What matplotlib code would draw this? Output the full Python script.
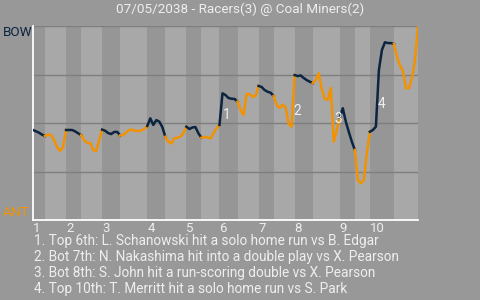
import numpy as np
import matplotlib
matplotlib.use("Agg")
import matplotlib.pyplot as plt

plt.rcParams["font.family"] = ["Roboto", "DejaVu Sans"]

BG = "#989898"
BAND_TOP = "#969696"
BAND_BOT = "#a8a8a8"
GRID = "#7f7f7f"
NAVY = "#0b2440"
ORANGE = "#f39200"
LIGHT = "#eeeeee"

title = "07/05/2038 - Racers(3) @ Coal Miners(2)"
away_abbr, home_abbr = "BOW", "ANT"

# win probability (%) for the away side after each play
wp = [46.4, 45.7, 45.0, 44.0, 43.3, 44.1, 43.8, 41.2, 37.6, 35.6,
      37.6, 46.4, 46.4, 46.4, 45.7, 44.7, 43.7, 41.2, 39.7, 39.7,
      36.1, 35.6, 41.2, 46.6, 46.0, 44.8, 44.3, 45.4, 45.4, 43.6,
      43.8, 45.2, 46.4, 46.5, 45.9, 45.9, 46.1, 47.0, 48.5, 52.4,
      49.0, 51.5, 50.7, 47.9, 42.9, 40.4, 39.4, 42.1, 42.4, 43.0,
      44.7, 48.1, 46.9, 47.7, 47.9, 44.7, 42.4, 42.8, 42.6, 42.1,
      44.7, 47.3, 49.0, 65.3, 64.4, 62.9, 62.5, 62.4, 61.0, 56.7,
      54.1, 64.9, 64.9, 63.6, 63.9, 69.1, 68.6, 67.0, 66.1, 65.6,
      63.9, 59.3, 57.7, 59.5, 58.0, 49.5, 48.1, 74.7, 74.2, 74.5,
      73.2, 72.1, 71.3, 70.6, 72.2, 75.6, 67.5, 62.4, 61.9, 68.0,
      40.4, 46.4, 52.8, 57.6, 50.7, 45.4, 40.4, 36.1, 20.6, 18.9,
      20.6, 34.4, 45.5, 46.4, 48.1, 77.3, 87.6, 91.6, 91.2, 91.2,
      90.7, 84.2, 79.7, 76.8, 67.9, 68.0, 73.2, 82.5, 100.0]

# plays in each half inning (top 1, bot 1, top 2, ...)
half_plays = [4, 7, 5, 7, 6, 9, 6, 7, 5, 6, 6, 7, 5, 7, 6, 9, 5, 5, 8, 8]
innings = [str(i) for i in range(1, 11)]

# key plays: (label, play index, label height in %)
key_plays = [("1", 64.3, 54.0), ("2", 88.0, 56.2),
             ("3", 101.3, 52.0), ("4", 116.0, 59.8)]
notes = [
    "1. Top 6th: L. Schanowski hit a solo home run vs B. Edgar",
    "2. Bot 7th: N. Nakashima hit into a double play vs X. Pearson",
    "3. Bot 8th: S. John hit a run-scoring double vs X. Pearson",
    "4. Top 10th: T. Merritt hit a solo home run vs S. Park",
]

bounds = np.concatenate([[0], np.cumsum(half_plays)])
x = np.arange(len(wp))
wp = np.array(wp)

fig = plt.figure(figsize=(4.8, 3.0), dpi=100, facecolor=BG)
ax = fig.add_axes([33 / 480, 80 / 300, 385 / 480, 194 / 300])
ax.set_facecolor(BG)

# alternating bands: top halves darker, bottom halves lighter
for i in range(len(half_plays)):
    ax.axvspan(bounds[i], bounds[i + 1], color=BAND_TOP if i % 2 == 0 else BAND_BOT,
               lw=0, zorder=0)

for yv in (25, 50, 75, 100):
    ax.axhline(yv, color=GRID, lw=1.0, zorder=1)

# line coloured by batting side
for i in range(len(half_plays)):
    s, e = bounds[i], bounds[i + 1]
    ax.plot(x[s:e + 1], wp[s:e + 1], color=NAVY if i % 2 == 0 else ORANGE,
            lw=1.8, zorder=3)

for lab, px, py in key_plays:
    ax.text(px, py, lab, color=LIGHT, fontsize=9.8, ha="center", va="center", zorder=4)

ax.set_xlim(0, bounds[-1])
ax.set_ylim(0, 100)
for side in ("top", "right"):
    ax.spines[side].set_visible(False)
for side in ("left", "bottom"):
    ax.spines[side].set_color("white")
    ax.spines[side].set_linewidth(1.3)
ax.set_yticks([])
ax.set_xticks(bounds[:-1:2], innings)
ax.tick_params(axis="x", length=0, pad=1.5, labelsize=9.5, labelcolor=LIGHT)
for t in ax.get_xticklabels():
    t.set_horizontalalignment("left")

fig.text(0.5, 1 - 9 / 300, title, ha="center", va="center", color=LIGHT, fontsize=9.7)
fig.text(3 / 480, 1 - 33 / 300, away_abbr, ha="left", va="center", color=NAVY, fontsize=9.7)
fig.text(3 / 480, 1 - 212 / 300, home_abbr, ha="left", va="center", color=ORANGE, fontsize=9.7)
for k, line in enumerate(notes):
    fig.text(34 / 480, 1 - (241.5 + 16 * k) / 300, line, ha="left", va="center",
             color=LIGHT, fontsize=9.8)

fig.savefig("out.png", dpi=100, facecolor=BG)
